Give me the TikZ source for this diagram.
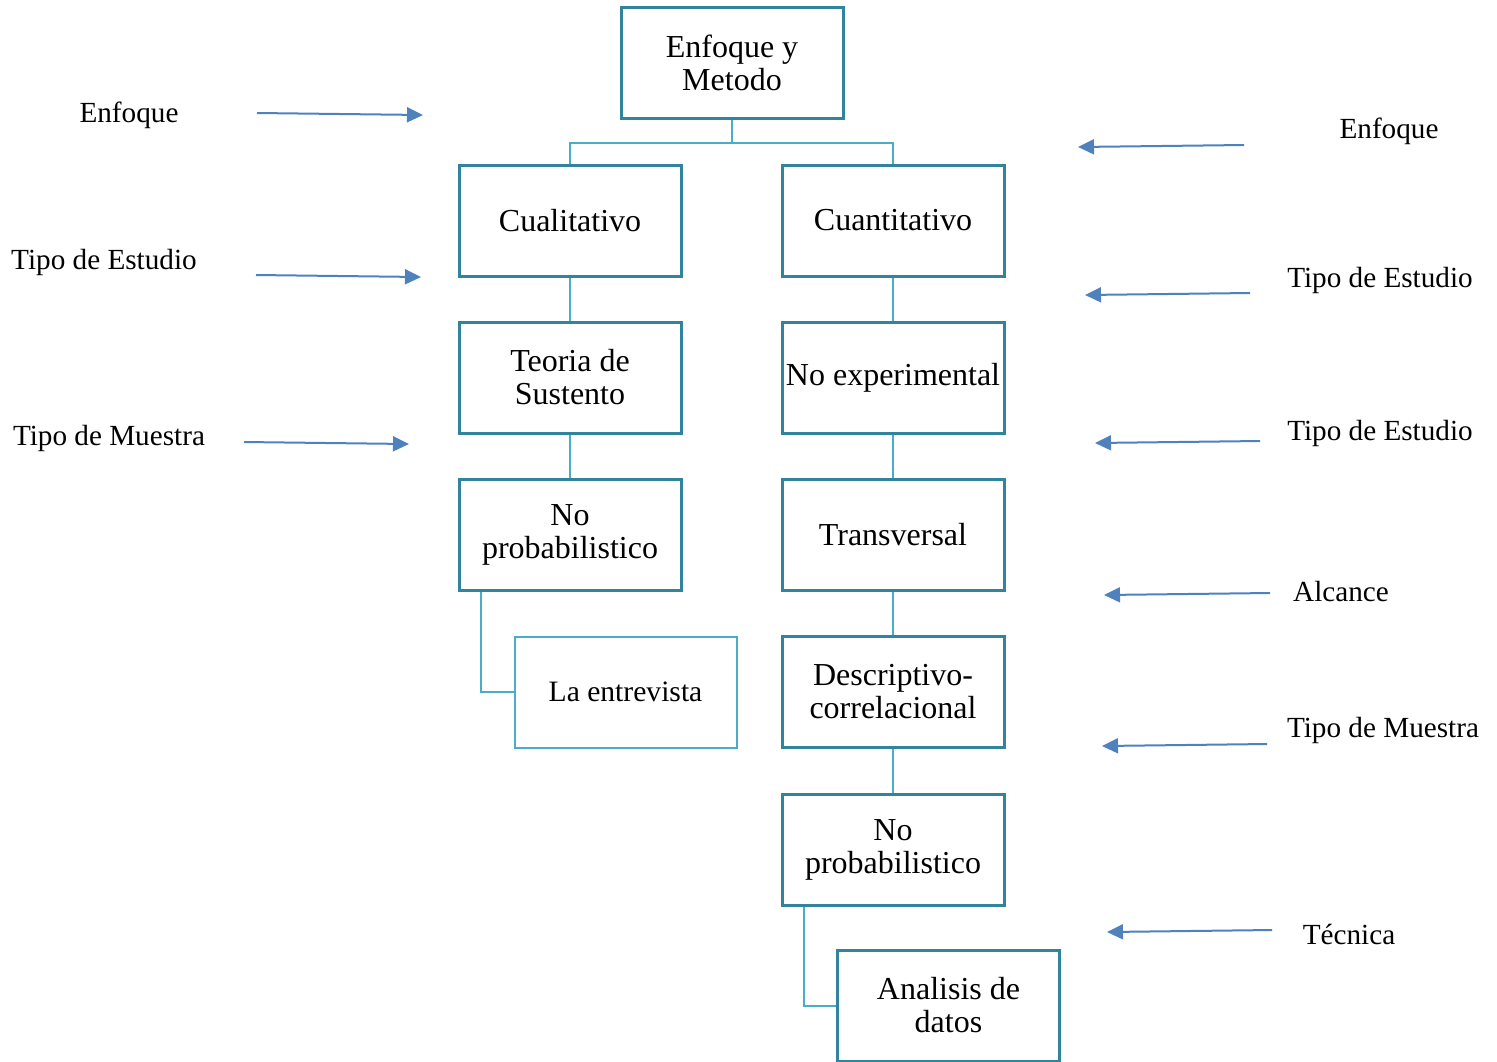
\documentclass[tikz,border=0pt]{standalone}
\usepackage{fontspec}
\setmainfont{Liberation Serif}
\usetikzlibrary{arrows.meta}
\definecolor{boxline}{HTML}{31849B}
\definecolor{linkline}{HTML}{4BACC6}
\definecolor{arrowblue}{HTML}{4F81BD}
\tikzset{
    stage/.style={draw=boxline, line width=1.5pt, minimum width=111pt, minimum height=55.5pt,
        inner sep=1pt, align=center, font=\fontsize{16}{16.5}\selectfont},
    lightstage/.style={stage, draw=linkline, line width=1pt, font=\fontsize{14.8}{16}\selectfont},
    link/.style={draw=linkline, line width=1pt},
    hint/.style={font=\fontsize{14.6}{16}\selectfont},
    pointer/.style={draw=arrowblue, line width=1pt, -{Triangle[length=8pt,width=7.5pt]}}
}

\begin{document}
\begin{tikzpicture}[x=0.5pt,y=-0.5pt]
                \useasboundingbox (0,0) rectangle (1497,1061);
                % boxes
                \node[stage] (top) at (732,62.5) {Enfoque y\\Metodo};
                \node[stage] (cual) at (570,220.5) {Cualitativo};
                \node[stage] (cuan) at (893,220.5) {Cuantitativo};
                \node[stage] (teoria) at (570,377.5) {Teoria de\\Sustento};
                \node[stage] (noexp) at (893,377.5) {No experimental};
                \node[stage] (nprobl) at (570,534.5) {No\\probabilistico};
                \node[stage] (transv) at (893,534.5) {Transversal};
                \node[lightstage] (entrev) at (625.5,692) {La entrevista};
                \node[stage] (descr) at (893,692) {Descriptivo-\\correlacional};
                \node[stage] (nprobr) at (893,849.5) {No\\probabilistico};
                \node[stage] (analis) at (948.5,1005.5) {Analisis de\\datos};
                % links
                \draw[link] (top.south) -- ++(0,23) -| (cual.north);
                \draw[link] (top.south) -- ++(0,23) -| (cuan.north);
                \draw[link] (cual) -- (teoria);
                \draw[link] (teoria) -- (nprobl);
                \draw[link] (cuan) -- (noexp);
                \draw[link] (noexp) -- (transv);
                \draw[link] (transv) -- (descr);
                \draw[link] (descr) -- (nprobr);
                \draw[link] ([xshift=11.5pt]nprobl.south west) |- (entrev.west);
                \draw[link] ([xshift=11.5pt]nprobr.south west) |- (analis.west);
                % left labels
                \node[hint] (l1) at (129,115) {Enfoque};
                \coordinate (l1a) at (257,113);
                \coordinate (l1b) at (423,115);
                \draw[pointer] (l1a) -- (l1b);
                \node[hint] (l2) at (104,262) {Tipo de Estudio};
                \coordinate (l2a) at (256,275);
                \coordinate (l2b) at (421,277);
                \draw[pointer] (l2a) -- (l2b);
                \node[hint] (l3) at (109,438) {Tipo de Muestra};
                \coordinate (l3a) at (244,442);
                \coordinate (l3b) at (409,444);
                \draw[pointer] (l3a) -- (l3b);
                % right labels
                \node[hint] (r1) at (1389,131) {Enfoque};
                \coordinate (r1a) at (1244,145);
                \coordinate (r1b) at (1078,147);
                \draw[pointer] (r1a) -- (r1b);
                \node[hint] (r2) at (1380,280) {Tipo de Estudio};
                \coordinate (r2a) at (1250,293);
                \coordinate (r2b) at (1085,295);
                \draw[pointer] (r2a) -- (r2b);
                \node[hint] (r3) at (1380,433) {Tipo de Estudio};
                \coordinate (r3a) at (1260,441);
                \coordinate (r3b) at (1095,443);
                \draw[pointer] (r3a) -- (r3b);
                \node[hint] (r4) at (1341,591) {Alcance};
                \coordinate (r4a) at (1270,593);
                \coordinate (r4b) at (1104,595);
                \draw[pointer] (r4a) -- (r4b);
                \node[hint] (r5) at (1383,730) {Tipo de Muestra};
                \coordinate (r5a) at (1267,744);
                \coordinate (r5b) at (1102,746);
                \draw[pointer] (r5a) -- (r5b);
                \node[hint] (r6) at (1349,934) {Técnica};
                \coordinate (r6a) at (1272,930);
                \coordinate (r6b) at (1107,932);
                \draw[pointer] (r6a) -- (r6b);
            \end{tikzpicture}
\end{document}
